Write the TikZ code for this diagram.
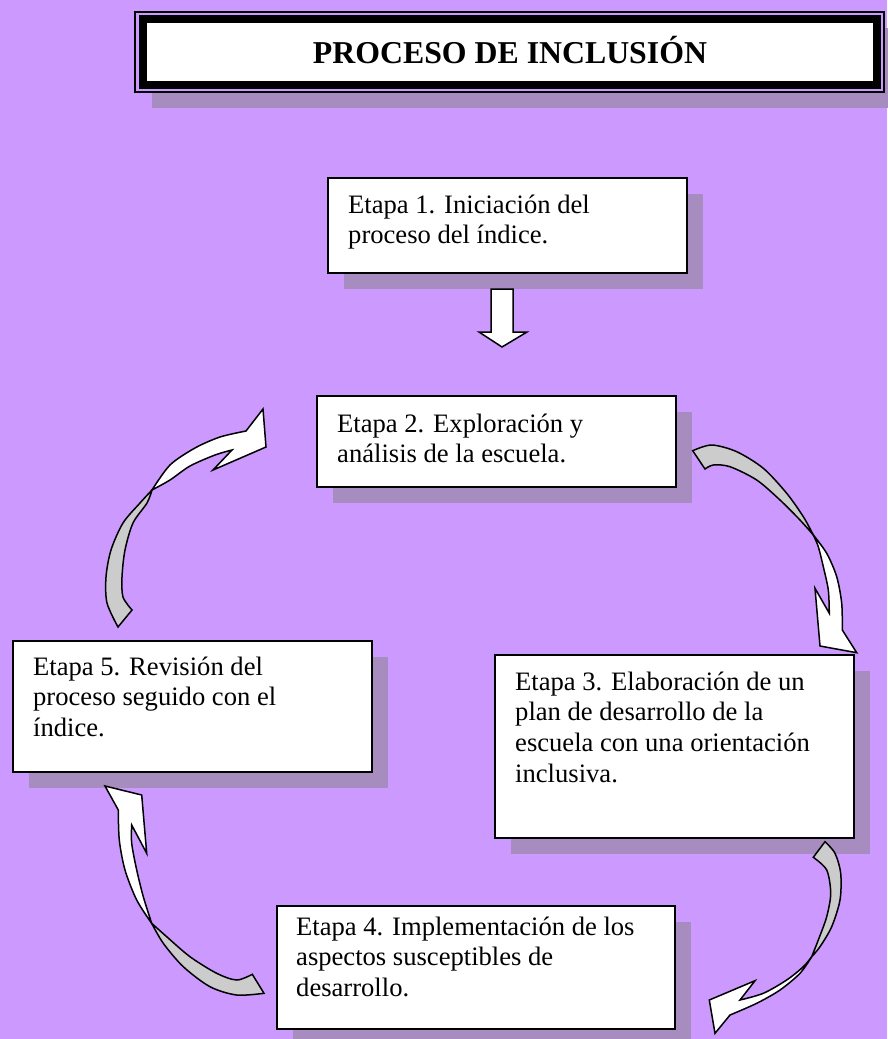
\documentclass[tikz,border=0pt]{standalone}
\usepackage{fontspec}
\setmainfont{Liberation Serif}
\usetikzlibrary{shadows}
\definecolor{bgpurple}{RGB}{204,153,255}
\definecolor{shadowc}{RGB}{167,141,191}
\definecolor{tailgray}{RGB}{204,204,204}
\begin{document}
\begin{tikzpicture}[x=1pt,y=-1pt,
  stepbox/.style={draw=black, line width=1.5pt, fill=white, anchor=north west,
    minimum width=359pt, inner sep=0pt,
    drop shadow={shadow xshift=16pt, shadow yshift=-16pt, fill=shadowc, opacity=1}},
  steptext/.style={anchor=base west, inner sep=0pt, font=\fontsize{26.6}{30.7}\selectfont},
  blockwhite/.style={draw=black, line width=1.5pt, fill=white, line join=miter},
  blockgray/.style={draw=black, line width=1.5pt, fill=tailgray, line join=miter}]
% background
\useasboundingbox (0,0) rectangle (887,1039);
\fill[bgpurple] (0,0) rectangle (887,1039);

% title
\fill[shadowc] (152,28) rectangle (901,108);
\node[draw=black, line width=1.2pt, fill=bgpurple, minimum width=749pt, minimum height=80pt, inner sep=0pt] (tframe) at (509.5,52) {};
\node[draw=black, line width=8pt, fill=white, minimum width=734pt, minimum height=66pt, inner sep=0pt] (tband) at (510,52) {};
\node[font=\bfseries\fontsize{31.8}{36}\selectfont, anchor=base, inner sep=0pt] (title) at (510,63) {PROCESO DE INCLUSIÓN};

% boxes
\node[stepbox, minimum height=95pt] (b1) at (327,177) {};
\node[stepbox, minimum height=91pt] (b2) at (316,395) {};
\node[stepbox, minimum height=131pt] (b5) at (12,640) {};
\node[stepbox, minimum height=183pt] (b3) at (494,654) {};
\node[stepbox, minimum height=123pt, minimum width=398pt] (b4) at (276,905) {};

% texts
\node[steptext] (t1) at (348,213) {\parbox[t]{420pt}{Etapa 1. Iniciación del\\proceso del índice.}};
\node[steptext] (t2) at (337,432) {\parbox[t]{420pt}{Etapa 2. Exploración y\\análisis de la escuela.}};
\node[steptext] (t5) at (33,675) {\parbox[t]{420pt}{Etapa 5. Revisión del\\proceso seguido con el\\índice.}};
\node[steptext] (t3) at (515,690) {\parbox[t]{420pt}{Etapa 3. Elaboración de un\\plan de desarrollo de la\\escuela con una orientación\\inclusiva.}};
\node[steptext] (t4) at (296,935) {\parbox[t]{420pt}{Etapa 4. Implementación de los\\aspectos susceptibles de\\desarrollo.}};

% down arrow 1 -> 2
\draw[blockwhite] (491,289) -- (513,289) -- (513,332) -- (527,332) -- (502,347) -- (479,332) -- (491,332) -- cycle;

% curved arrow 5 -> 2 (left)
\draw[blockgray] plot[smooth] coordinates {(118,627) (107,603) (106,577) (111,550) (123,523) (140,503) (152,490)}
  -- plot[smooth] coordinates {(152,490) (147,503) (133,523) (125,550) (122,577) (123,597) (132,610)} -- cycle;
\draw[blockwhite] plot[smooth] coordinates {(152,490) (170,465) (195,448) (220,437) (246,431)}
  -- (263,409) -- (266,447) -- (213,470)
  -- plot[smooth] coordinates {(232,450) (215,455) (190,466) (170,480) (152,490)} -- cycle;

% curved arrow 2 -> 3 (right top)
\draw[blockgray] plot[smooth] coordinates {(692.7,450.7) (711.7,445) (736.7,451.7) (763.3,468.3) (786.7,493.3) (803.3,516.7) (813.3,535)}
  -- plot[smooth] coordinates {(813.3,535) (800,520) (780,500) (756.7,480) (730,466.7) (713.3,465) (705,469)} -- cycle;
\draw[blockwhite] plot[smooth] coordinates {(813.3,535) (826.7,553.3) (836.7,576.7) (841.7,603.3) (842.3,630)}
  -- (856.7,652.7) -- (820,646) -- (815,588.3)
  -- plot[smooth] coordinates {(829.3,613.3) (828.3,590) (823.3,566.7) (818.3,546.7) (813.3,535)} -- cycle;

% curved arrow 3 -> 4 (right bottom)
\draw[blockgray] plot[smooth] coordinates {(825,841.7) (835,853.3) (840.7,873.3) (840,900) (831.7,926.7) (820,946.7) (811.7,956.7)}
  -- plot[smooth] coordinates {(811.7,956.7) (818.3,940) (826.7,916.7) (830.7,893.3) (826.7,870) (813.3,857.3)} -- cycle;
\draw[blockwhite] plot[smooth] coordinates {(811.7,956.7) (800,973.3) (780,990) (756.7,1003.3) (730,1015)}
  -- (715,1033.3) -- (709.3,1000) -- (755,980.7)
  -- plot[smooth] coordinates {(740,1000) (763.3,993.3) (786.7,980) (803.3,966.7) (811.7,956.7)} -- cycle;

% curved arrow 4 -> 5 (left bottom)
\draw[blockgray] plot[smooth] coordinates {(264,993.3) (236.7,995) (210,986.7) (183.3,966.7) (163.3,943.3) (151.7,923.3)}
  -- plot[smooth] coordinates {(151.7,923.3) (166.7,936.7) (190,956.7) (216.7,973.3) (236.7,980) (252.3,974.3)} -- cycle;
\draw[blockwhite] plot[smooth] coordinates {(151.7,923.3) (136.7,900) (125,870) (119.3,840) (118.3,810)}
  -- (105,786) -- (141.7,795) -- (146.7,853.3)
  -- plot[smooth] coordinates {(131.7,825) (131.7,843.3) (136.7,870) (143.3,896.7) (151.7,923.3)} -- cycle;
\end{tikzpicture}
\end{document}
